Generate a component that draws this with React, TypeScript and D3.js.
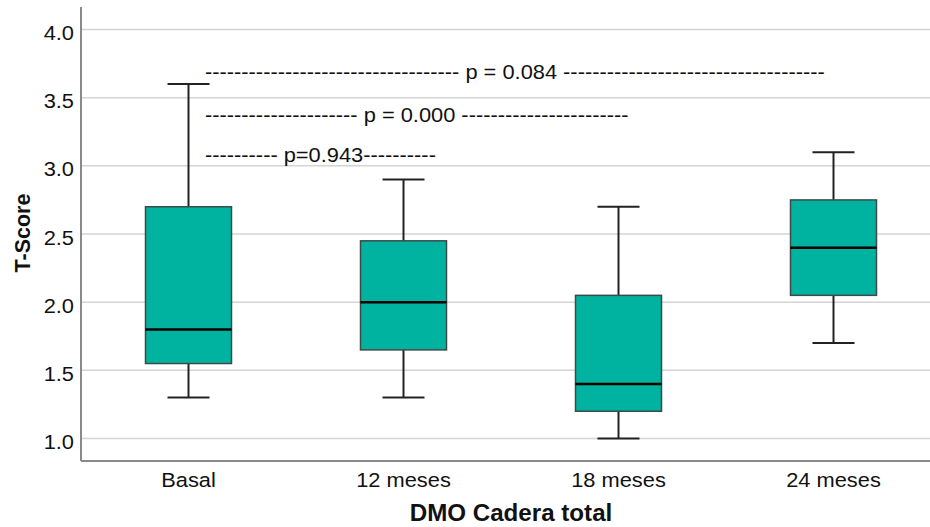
import React from "react";
import * as d3 from "d3";

// groups along the x axis
const categories = ["Basal", "12 meses", "18 meses", "24 meses"];
// box summaries
const mins = [1.3, 1.3, 1.0, 1.7];
const q1s = [1.55, 1.65, 1.2, 2.05];
const medians = [1.8, 2.0, 1.4, 2.4];
const q3s = [2.7, 2.45, 2.05, 2.75];
const maxs = [3.6, 2.9, 2.7, 3.1];

const yTicks = [1.0, 1.5, 2.0, 2.5, 3.0, 3.5, 4.0];

// p-value notes written with dashes, as in the original
const noteTexts = [
  "----------------------------------- p = 0.084 ------------------------------------",
  "--------------------- p = 0.000 -----------------------",
  "---------- p=0.943----------",
];
const noteLevels = [3.69, 3.37, 3.08];

const W = 930;
const H = 527;
const left = 81;
const bottom = 461;
const top = 7;

function SText({ x, y, anchor = "start", size = 19.5, sx = 1.12, weight = "normal", rotate = 0, children }: any) {
  return (
    <text
      transform={`translate(${x},${y}) rotate(${rotate}) scale(${sx},1)`}
      textAnchor={anchor}
      fontSize={size}
      fontWeight={weight}
      fontFamily="'Liberation Sans', Arial, sans-serif"
      fill="#111"
    >
      {children}
    </text>
  );
}

export default function App() {
  const x = d3.scaleBand().domain(categories).range([left, left + 4 * 215]).padding(0);
  const y = d3.scaleLinear().domain([0.835, 4.165]).range([bottom, top]);
  const boxW = 86;
  const capW = 42;

  return (
    <svg width={W} height={H} style={{ position: "absolute", left: 0, top: 0 }}>
      <rect width={W} height={H} fill="#fff" />
      {yTicks.map((t) => (
        <g key={t}>
          <line x1={left} x2={W} y1={y(t)} y2={y(t)} stroke="#d4d4d4" strokeWidth={1.5} />
          <SText x={74} y={y(t) + 10.5} anchor="end">{t.toFixed(1)}</SText>
        </g>
      ))}
      <line x1={left} x2={left} y1={top} y2={bottom} stroke="#8a8a8a" strokeWidth={2} />
      <line x1={left} x2={W} y1={bottom} y2={bottom} stroke="#8a8a8a" strokeWidth={2} />

      {categories.map((c, i) => {
        const cx = x(c)! + x.bandwidth() / 2;
        return (
          <g key={c}>
            <line x1={cx} x2={cx} y1={y(q3s[i])} y2={y(maxs[i])} stroke="#222" strokeWidth={2} />
            <line x1={cx} x2={cx} y1={y(q1s[i])} y2={y(mins[i])} stroke="#222" strokeWidth={2} />
            <line x1={cx - capW / 2} x2={cx + capW / 2} y1={y(maxs[i])} y2={y(maxs[i])} stroke="#222" strokeWidth={2} />
            <line x1={cx - capW / 2} x2={cx + capW / 2} y1={y(mins[i])} y2={y(mins[i])} stroke="#222" strokeWidth={2} />
            <rect
              x={cx - boxW / 2}
              y={y(q3s[i])}
              width={boxW}
              height={y(q1s[i]) - y(q3s[i])}
              fill="#00b2a0"
              stroke="#3d4a48"
              strokeWidth={1.5}
            />
            <line x1={cx - boxW / 2} x2={cx + boxW / 2} y1={y(medians[i])} y2={y(medians[i])} stroke="#000" strokeWidth={2.5} />
            <SText x={cx} y={486.5} anchor="middle">{c}</SText>
          </g>
        );
      })}

      {noteTexts.map((t, i) => (
        <SText key={i} x={205} y={y(noteLevels[i]) + 7}>{t}</SText>
      ))}

      <SText x={511} y={521} anchor="middle" size={23} sx={1.05} weight="bold">DMO Cadera total</SText>
      <SText x={30} y={233} anchor="middle" size={21.5} sx={1} weight="bold" rotate={-90}>T-Score</SText>
    </svg>
  );
}
